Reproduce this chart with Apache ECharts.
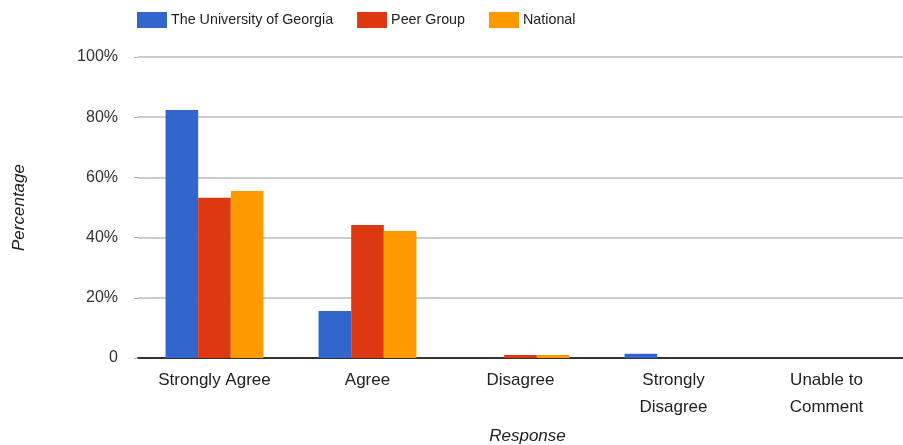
<!DOCTYPE html>
<html><head><meta charset="utf-8">
<script src="https://cdn.jsdelivr.net/npm/echarts@6/dist/echarts.min.js"></script>
<style>html,body{margin:0;padding:0;background:#fff}#c{width:903px;height:445px}</style>
</head><body><div id="c"></div>
<script>
const categories = ['Strongly Agree', 'Agree', 'Disagree', 'Strongly\nDisagree', 'Unable to\nComment'];
const seriesNames = ['The University of Georgia', 'Peer Group', 'National'];
const uga = [82.4, 15.6, 0, 1.4, 0];
const peer = [53.2, 44.2, 1.0, 0, 0];
const national = [55.5, 42.2, 1.0, 0, 0];
const colors = ['#3366cc', '#dc3912', '#ff9900'];
const font = 'Liberation Sans, Arial, sans-serif';

const chart = echarts.init(document.getElementById('c'));
chart.setOption({
  animation: false,
  color: colors,
  textStyle: { fontFamily: font },
  legend: {
    top: 7, left: 132, itemWidth: 30, itemHeight: 16, itemGap: 24,
    icon: 'rect',
    textStyle: { fontSize: 14.3, color: '#222', fontFamily: font, padding: [0,0,0,-1] },
    data: seriesNames
  },
  grid: { left: 138, right: 0, top: 57, bottom: 87, containLabel: false, outerBoundsMode: 'none' },
  xAxis: {
    type: 'category', data: categories,
    name: 'Response', nameLocation: 'middle', nameGap: 70,
    nameTextStyle: { fontStyle: 'italic', fontSize: 17, color: '#222', fontFamily: font, padding: [0,0,0,14] },
    axisLine: { lineStyle: { color: '#333', width: 2 } },
    axisTick: { show: false },
    axisLabel: { fontSize: 17, color: '#222', margin: 9, lineHeight: 27, fontFamily: font }
  },
  yAxis: {
    type: 'value', min: 0, max: 100, interval: 20,
    name: 'Percentage', nameLocation: 'middle', nameGap: 110,
    nameTextStyle: { fontStyle: 'italic', fontSize: 17, color: '#222', fontFamily: font },
    axisLine: { show: false },
    axisTick: { show: true, length: 4, inside: false, lineStyle: { color: '#aaa' } },
    splitLine: { lineStyle: { color: '#ccc', width: 2 } },
    axisLabel: { fontSize: 16, color: '#333', margin: 20, fontFamily: font,
      formatter: v => v === 0 ? '0' : v + '%' }
  },
  series: [
    { name: seriesNames[0], type: 'bar', data: uga, barGap: '0%', barCategoryGap: '36%' },
    { name: seriesNames[1], type: 'bar', data: peer, barGap: '0%', barCategoryGap: '36%' },
    { name: seriesNames[2], type: 'bar', data: national, barGap: '0%', barCategoryGap: '36%' }
  ]
});
</script></body></html>
